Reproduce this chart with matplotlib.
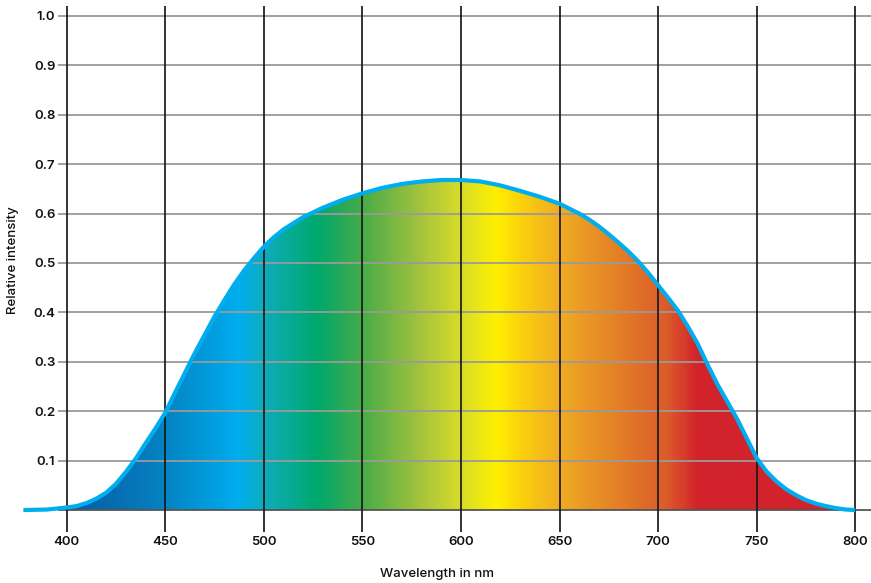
import numpy as np
import matplotlib.pyplot as plt
from matplotlib.colors import LinearSegmentedColormap

# spectrum
wavelength = [378, 385, 390, 395, 400, 405, 410, 415, 420, 425, 430, 435,
              440, 445, 450, 455, 460, 465, 470, 475, 480, 485, 490, 495,
              500, 505, 510, 520, 530, 540, 550, 560, 570, 580, 590, 600,
              610, 620, 630, 640, 650, 660, 665, 670, 675, 680, 685, 690,
              695, 700, 705, 710, 715, 720, 725, 730, 735, 740, 745, 750,
              755, 760, 765, 770, 775, 780, 785, 790, 795, 800]
intensity = [0.0, 0.0005, 0.001, 0.003, 0.005, 0.008, 0.014, 0.023, 0.035,
             0.053, 0.077, 0.104, 0.135, 0.165, 0.197, 0.238, 0.278, 0.318,
             0.355, 0.392, 0.425, 0.457, 0.485, 0.51, 0.533, 0.552, 0.568,
             0.593, 0.612, 0.628, 0.641, 0.652, 0.66, 0.665, 0.668, 0.668,
             0.665, 0.657, 0.646, 0.634, 0.62, 0.6, 0.588, 0.574, 0.558,
             0.541, 0.523, 0.503, 0.48, 0.455, 0.43, 0.404, 0.372, 0.337,
             0.295, 0.255, 0.22, 0.185, 0.145, 0.105, 0.078, 0.058, 0.042,
             0.03, 0.02, 0.013, 0.008, 0.004, 0.001, 0.0]

x_ticks = [400, 450, 500, 550, 600, 650, 700, 750, 800]
y_ticks = [0.1, 0.2, 0.3, 0.4, 0.5, 0.6, 0.7, 0.8, 0.9, 1.0]

# colour stops of the fill (nm, colour)
stop_nm = [377, 410, 450, 487, 500, 527, 550, 580, 600, 618, 630, 650,
           690, 705, 720, 809]
stop_colors = ['#0b5a9e', '#0862a8', '#0484c4', '#00aeef', '#0eacba',
               '#00a86c', '#48ab48', '#a8c43c', '#d8dc28', '#fff000',
               '#fbd20c', '#f0ac22', '#e07028', '#dc5a2a', '#d2232c',
               '#d2232c']

X_MIN, X_MAX = 377.3, 808.0
Y_MIN, Y_MAX = -0.0445, 1.0202

fig = plt.figure(figsize=(8.71, 5.83), dpi=100)
ax = fig.add_axes([22 / 871, 51 / 583, 849 / 871, 526 / 583])
ax.set_xlim(X_MIN, X_MAX)
ax.set_ylim(Y_MIN, Y_MAX)
for s in ax.spines.values():
    s.set_visible(False)

# gradient fill clipped to the area under the curve
pos = [(n - X_MIN) / (X_MAX - X_MIN) for n in stop_nm]
pos[0], pos[-1] = 0.0, 1.0
cmap = LinearSegmentedColormap.from_list('spec', list(zip(pos, stop_colors)))
grad = np.linspace(0, 1, 800).reshape(1, -1)
img = ax.imshow(grad, cmap=cmap, aspect='auto',
                extent=[X_MIN, X_MAX, 0, 1], zorder=1)
poly = ax.fill_between(wavelength, intensity, 0, color='none', lw=0)
img.set_clip_path(poly.get_paths()[0], transform=ax.transData)

# grid
ax.hlines(y_ticks, 395.6, X_MAX, color='#9a9a9a', lw=1.3, zorder=2)
ax.hlines(0, 395.6, X_MAX, color='#555555', lw=1.3, zorder=2)
for xv in x_ticks:
    ax.axvline(xv, color='#1a1a1a', lw=1.25, zorder=3)

ax.plot(wavelength, intensity, color='#00aeef', lw=3, zorder=4,
        solid_capstyle='butt', solid_joinstyle='round')

ax.set_xticks(x_ticks)
ax.set_yticks(y_ticks)
ax.tick_params(length=0, labelsize=9.5, colors='#111111')
ax.tick_params(axis='y', pad=-24)
ax.tick_params(axis='x', pad=3)
for lab in ax.get_xticklabels() + ax.get_yticklabels():
    lab.set_fontfamily('Inter')
    lab.set_fontweight('semibold')

ax.set_xlabel('Wavelength in nm', fontsize=9.5, fontfamily='Inter',
              fontweight='medium', color='#111111')
ax.set_ylabel('Relative intensity', fontsize=9.5, fontfamily='Inter',
              fontweight='medium', color='#111111')
ax.xaxis.set_label_coords(0.489, -0.068)
ax.yaxis.set_label_coords(-0.003, 0.517)

fig.savefig('out.png', dpi=100)
